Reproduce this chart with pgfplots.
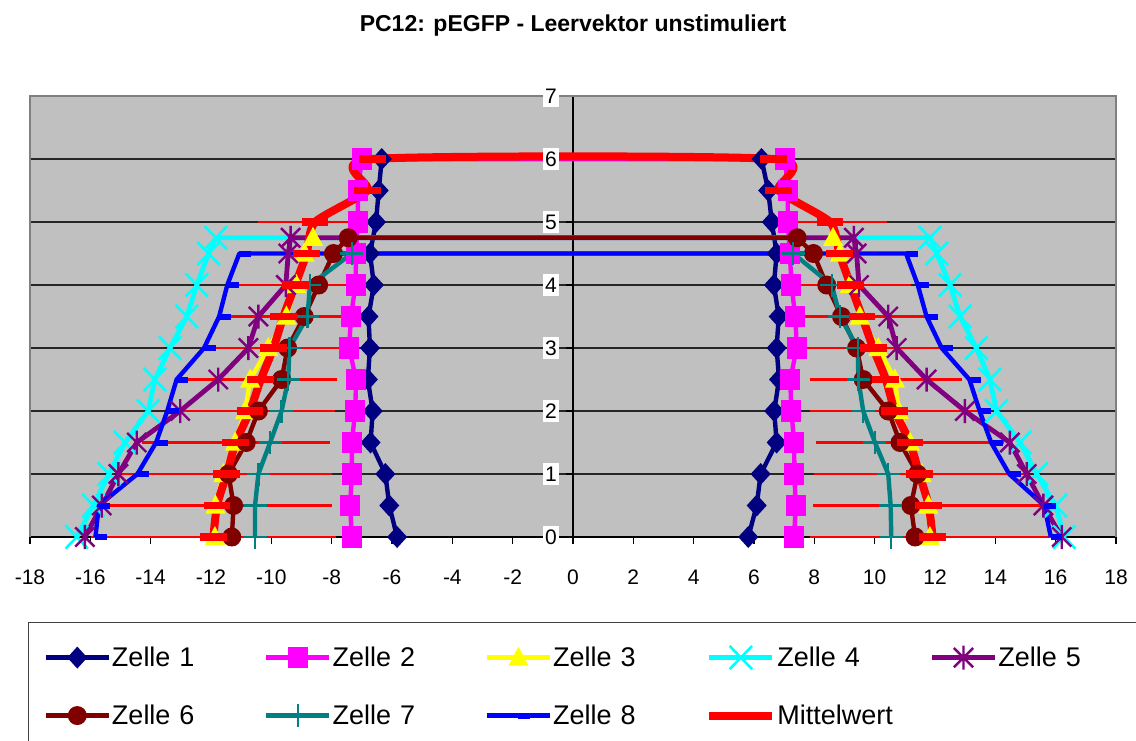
\documentclass[border=0pt]{standalone}
\usepackage{pgfplots}
\pgfplotsset{compat=1.18}
\usepackage{pgfplotstable}
\usepackage{fontspec}
\setmainfont{Liberation Sans}

\definecolor{navyx}{HTML}{000080}
\definecolor{magx}{HTML}{FF00FF}
\definecolor{yelx}{HTML}{FFFF00}
\definecolor{cyanx}{HTML}{00FFFF}
\definecolor{purx}{HTML}{800080}
\definecolor{marx}{HTML}{800000}
\definecolor{tealx}{HTML}{008080}
\definecolor{bluex}{HTML}{0000FF}
\definecolor{redx}{HTML}{FF0000}
\definecolor{bgx}{HTML}{C0C0C0}
\definecolor{brdx}{HTML}{808080}

\pgfdeclareplotmark{xdia}{\pgfpathmoveto{\pgfqpoint{0pt}{5.5pt}}\pgfpathlineto{\pgfqpoint{5pt}{0pt}}\pgfpathlineto{\pgfqpoint{0pt}{-5.5pt}}\pgfpathlineto{\pgfqpoint{-5pt}{0pt}}\pgfpathclose\pgfusepathqfill}
\pgfdeclareplotmark{xsq}{\pgfpathrectangle{\pgfqpoint{-5pt}{-5.3pt}}{\pgfqpoint{10pt}{10.6pt}}\pgfusepathqfill}
\pgfdeclareplotmark{xtri}{\pgfpathmoveto{\pgfqpoint{0pt}{5.5pt}}\pgfpathlineto{\pgfqpoint{5pt}{-4pt}}\pgfpathlineto{\pgfqpoint{-5pt}{-4pt}}\pgfpathclose\pgfusepathqfill}
\pgfdeclareplotmark{xx}{\pgfpathmoveto{\pgfqpoint{-5.6pt}{-5.8pt}}\pgfpathlineto{\pgfqpoint{5.6pt}{5.8pt}}\pgfpathmoveto{\pgfqpoint{-5.6pt}{5.8pt}}\pgfpathlineto{\pgfqpoint{5.6pt}{-5.8pt}}\pgfusepathqstroke}
\pgfdeclareplotmark{xstar}{\pgfpathmoveto{\pgfqpoint{-4.8pt}{-4.8pt}}\pgfpathlineto{\pgfqpoint{4.8pt}{4.8pt}}\pgfpathmoveto{\pgfqpoint{-4.8pt}{4.8pt}}\pgfpathlineto{\pgfqpoint{4.8pt}{-4.8pt}}\pgfpathmoveto{\pgfqpoint{0pt}{-6pt}}\pgfpathlineto{\pgfqpoint{0pt}{6pt}}\pgfusepathqstroke}
\pgfdeclareplotmark{xcirc}{\pgfpathcircle{\pgfpointorigin}{4.75pt}\pgfusepathqfill}
\pgfdeclareplotmark{xplus}{\pgfpathmoveto{\pgfqpoint{-5.75pt}{0pt}}\pgfpathlineto{\pgfqpoint{5.75pt}{0pt}}\pgfpathmoveto{\pgfqpoint{0pt}{-5.75pt}}\pgfpathlineto{\pgfqpoint{0pt}{5.75pt}}\pgfusepathqstroke}
\pgfdeclareplotmark{xdashb}{\pgfpathrectangle{\pgfqpoint{0pt}{-1.5pt}}{\pgfqpoint{5.8pt}{3pt}}\pgfusepathqfill}
\pgfdeclareplotmark{xdashr}{\pgfpathrectangle{\pgfqpoint{-6.7pt}{-1.9pt}}{\pgfqpoint{13.4pt}{3.8pt}}\pgfusepathqfill}

\pgfplotsset{
  layers/mylayers/.define layer set={
    axis background,axis grid,axis ticks,axis lines,pre main,main,axis tick labels,axis descriptions,axis foreground
  }{
    grid style={/pgfplots/on layer=axis grid},
    tick style={/pgfplots/on layer=axis ticks},
    axis line style={/pgfplots/on layer=axis lines},
    label style={/pgfplots/on layer=axis descriptions},
    legend style={/pgfplots/on layer=axis descriptions},
    title style={/pgfplots/on layer=axis descriptions},
    colorbar style={/pgfplots/on layer=axis descriptions},
    ticklabel style={/pgfplots/on layer=axis tick labels},
    axis background@ style={/pgfplots/on layer=axis background},
    3d box foreground style={/pgfplots/on layer=axis foreground},
  },
}

\pgfplotstableread{
x y e
-11.92 0 4.05
-11.80 0.5 3.82
-11.48 1 3.48
-11.18 1.5 3.12
-10.71 2 2.83
-10.35 2.5 2.53
-9.93 3 2.4
-9.60 3.5 2.2
-9.21 4 2.02
-8.83 4.5 1.95
-8.55 5 1.9
-6.82 5.5 0.3
-6.65 6 0.3
6.65 6 0.3
6.82 5.5 0.3
8.52 5 1.9
8.83 4.5 1.95
9.20 4 2.02
9.58 3.5 2.2
9.95 3 2.4
10.37 2.5 2.53
10.67 2 2.83
11.17 1.5 3.12
11.48 1 3.48
11.79 0.5 3.82
11.92 0 4.05
}\mean

\begin{document}
\begin{tikzpicture}
\begin{axis}[
  at={(15pt,101.5pt)}, anchor=south west,
  scale only axis, width=543pt, height=220.5pt,
  xmin=-18, xmax=18, ymin=0, ymax=7,
  clip=false,
  set layers=mylayers,
  axis x line=bottom, axis y line=center,
  axis line style={-, black, line width=0.7pt},
  hide obscured x ticks=false, hide obscured y ticks=false,
  xtick={-18,-16,...,18}, ytick={0,1,...,7},
  tick align=outside, major tick length=3.5pt,
  tick style={black, line width=0.6pt},
  ymajorgrids, grid style={black!85, line width=0.6pt},
  axis background/.style={fill=bgx},
  /pgf/number format/assume math mode=true,
  tick label style={font=\fontsize{10.5}{12}\selectfont},
  xticklabel style={anchor=center, yshift=-16.5pt},
  yticklabel style={anchor=center, xshift=-7.5pt, fill=white, inner xsep=1.1pt, inner ysep=2pt},
  title={PC12: pEGFP - Leervektor unstimuliert},
  title style={at={(0.5,1.1202)}, anchor=base, font=\bfseries\fontsize{11.5}{13}\selectfont},
  legend columns=5, legend cell align=left,
  legend image code/.code={\draw[mark repeat=2,mark phase=2] plot coordinates {(0pt,0pt) (15.75pt,0pt) (31.5pt,0pt)};},
  legend style={at={(-0.00184,-0.1927)}, anchor=north west,
    draw=black!75, line width=0.6pt, fill=white,
    inner xsep=7.5pt, inner ysep=10.75pt,
    font=\fontsize{13.5}{16}\selectfont,
    row sep=15.5pt, column sep=0pt,
    nodes={inner xsep=0.5pt, inner ysep=0pt, text height=11pt, text depth=2.5pt, text width=75.6pt, align=left}},
]
% Mittelwert error bars (drawn beneath everything)
\addplot[forget plot, draw=none, mark=none,
  error bars/.cd, x dir=both, x explicit,
  error bar style={draw=redx, line width=1.3pt}, error mark=none]
  table[x=x, y=y, x error=e] {\mean};

\addplot[navyx, line width=2.2pt, line join=round, mark=xdia, mark options={fill=navyx, draw=navyx}] coordinates {
(-5.83,0) (-6.09,0.5) (-6.22,1) (-6.71,1.5) (-6.64,2) (-6.80,2.5) (-6.73,3) (-6.78,3.5) (-6.60,4) (-6.73,4.5) (-6.53,5) (-6.44,5.5) (-6.34,6)
(6.25,6) (6.47,5.5) (6.59,5) (6.75,4.5) (6.66,4) (6.82,3.5) (6.75,3) (6.83,2.5) (6.67,2) (6.75,1.5) (6.22,1) (6.09,0.5) (5.81,0)};
\addlegendentry{Zelle 1}

\addplot[magx, line width=2.2pt, line join=round, mark=xsq, mark options={fill=magx, draw=magx}] coordinates {
(-7.33,0) (-7.39,0.5) (-7.33,1) (-7.33,1.5) (-7.22,2) (-7.19,2.5) (-7.42,3) (-7.36,3.5) (-7.21,4) (-7.19,4.5) (-7.13,5) (-7.13,5.5) (-7.00,6)
(7.03,6) (7.12,5.5) (7.12,5) (7.19,4.5) (7.24,4) (7.37,3.5) (7.42,3) (7.20,2.5) (7.24,2) (7.33,1.5) (7.34,1) (7.38,0.5) (7.33,0)};
\addlegendentry{Zelle 2}

\addplot[yelx, line width=2.2pt, line join=round, mark=xtri, mark options={fill=yelx, draw=yelx}] coordinates {
(-11.87,0) (-11.85,0.5) (-11.59,1) (-11.20,1.5) (-10.87,2) (-10.70,2.5) (-10.10,3) (-9.50,3.5) (-9.17,4) (-8.90,4.5) (-8.62,4.75)
(8.62,4.75) (8.85,4.5) (9.18,4) (9.51,3.5) (10.12,3) (10.67,2.5) (10.80,2) (11.17,1.5) (11.56,1) (11.78,0.5) (11.83,0)};
\addlegendentry{Zelle 3}

\addplot[cyanx, line width=2.4pt, line join=round, mark=xx, mark options={draw=cyanx, line width=1.3pt}] coordinates {
(-16.45,0) (-15.90,0.5) (-15.38,1) (-14.85,1.5) (-14.08,2) (-13.86,2.5) (-13.36,3) (-12.80,3.5) (-12.47,4) (-12.08,4.5) (-11.84,4.75)
(11.83,4.75) (12.06,4.5) (12.50,4) (12.83,3.5) (13.37,3) (13.82,2.5) (14.04,2) (14.82,1.5) (15.37,1) (16.00,0.5) (16.28,0)};
\addlegendentry{Zelle 4}

\addplot[purx, line width=2.4pt, line join=round, mark=xstar, mark options={draw=purx, line width=1.2pt}] coordinates {
(-16.18,0) (-15.62,0.5) (-15.07,1) (-14.46,1.5) (-13.02,2) (-11.76,2.5) (-10.76,3) (-10.43,3.5) (-9.52,4) (-9.44,4.5) (-9.36,4.75)
(9.31,4.75) (9.40,4.5) (9.48,4) (10.45,3.5) (10.73,3) (11.72,2.5) (12.99,2) (14.48,1.5) (15.04,1) (15.59,0.5) (16.20,0)};
\addlegendentry{Zelle 5}

\addplot[marx, line width=2.2pt, line join=round, mark=xcirc, mark options={fill=marx, draw=marx}] coordinates {
(-11.31,0) (-11.25,0.5) (-11.42,1) (-10.83,1.5) (-10.43,2) (-9.66,2.5) (-9.46,3) (-8.91,3.5) (-8.43,4) (-7.94,4.5) (-7.45,4.75)
(7.43,4.75) (7.97,4.5) (8.41,4) (8.90,3.5) (9.40,3) (9.62,2.5) (10.45,2) (10.84,1.5) (11.42,1) (11.20,0.5) (11.34,0)};
\addlegendentry{Zelle 6}

\addplot[tealx, line width=2.2pt, line join=round, mark=xplus, mark options={draw=tealx, line width=1.2pt}] coordinates {
(-10.54,0) (-10.54,0.5) (-10.43,1) (-10.04,1.5) (-9.66,2) (-9.44,2.5) (-9.40,3) (-8.80,3.5) (-8.72,4) (-7.33,4.5)
(7.30,4.5) (8.58,4) (8.85,3.5) (9.44,3) (9.46,2.5) (9.62,2) (10.01,1.5) (10.45,1) (10.53,0.5) (10.55,0)};
\addlegendentry{Zelle 7}

\addplot[bluex, line width=2.2pt, line join=round, mark=xdashb, mark options={fill=bluex, draw=bluex}] coordinates {
(-15.83,0) (-15.72,0.5) (-14.44,1) (-13.82,1.5) (-13.45,2) (-13.14,2.5) (-12.23,3) (-11.73,3.5) (-11.46,4) (-11.06,4.5)
(11.04,4.5) (11.43,4) (11.72,3.5) (12.22,3) (13.14,2.5) (13.48,2) (13.86,1.5) (14.46,1) (15.62,0.5) (15.84,0)};
\addlegendentry{Zelle 8}

\addplot[redx, line width=4pt, line join=round, smooth, tension=0.4, mark=xdashr, mark options={fill=redx, draw=redx}]
  table[x=x, y=y] {\mean};
\addlegendentry{Mittelwert}

\draw[brdx, line width=1.35pt] (rel axis cs:0,0) -- (rel axis cs:0,1) -- (rel axis cs:1,1) -- (rel axis cs:1,0);
\end{axis}
\pgfresetboundingbox
\useasboundingbox (0,0) rectangle (568pt,370pt);
\end{tikzpicture}
\end{document}
